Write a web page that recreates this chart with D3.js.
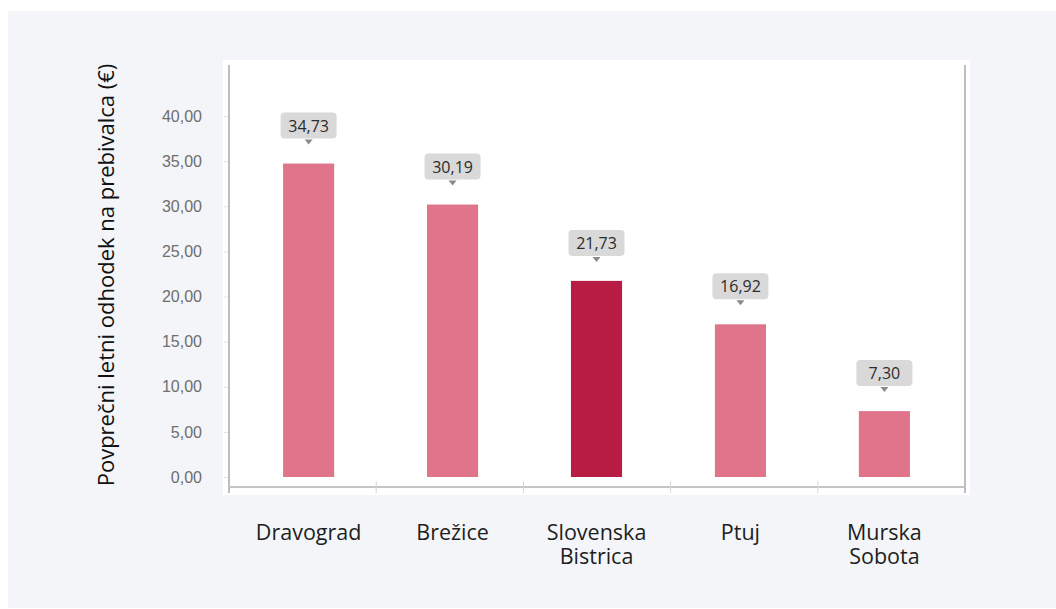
<!DOCTYPE html>
<html>
<head>
<meta charset="utf-8">
<script src="https://cdn.jsdelivr.net/npm/d3@7"></script>
<style>
  html, body { margin: 0; padding: 0; background: #ffffff; }
  svg { display: block; font-family: "Open Sans", "Noto Sans", sans-serif; }
</style>
</head>
<body>
<svg id="chart" width="1056" height="609"></svg>
<script>
const categories = [["Dravograd"], ["Brežice"], ["Slovenska", "Bistrica"], ["Ptuj"], ["Murska", "Sobota"]];
const values = [34.73, 30.19, 21.73, 16.92, 7.30];
const highlight = [false, false, true, false, false];
const yTicks = [0, 5, 10, 15, 20, 25, 30, 35, 40];
const yTitle = "Povprečni letni odhodek na prebivalca (€)";

const fmt = v => v.toFixed(2).replace(".", ",");
const svg = d3.select("#chart");

// backgrounds
svg.append("rect").attr("x", 8).attr("y", 11).attr("width", 1048).attr("height", 597).attr("fill", "#f3f5f8");
svg.append("rect").attr("x", 223).attr("y", 60).attr("width", 747).attr("height", 435).attr("fill", "#ffffff");

const names = categories.map(c => c.join(" "));
const x = d3.scaleBand().domain(names).range([237, 956]).paddingInner(0.645).paddingOuter(0.32);
const xb = d3.scaleBand().domain(names).range([229, 965]);
const y = d3.scaleLinear().domain([0, 40]).range([477, 116]);

// y tick marks + labels
const yAxis = svg.append("g").attr("transform", "translate(229,0)")
  .call(d3.axisLeft(y).tickValues(yTicks).tickSize(5).tickPadding(22).tickFormat(fmt));
yAxis.select(".domain").remove();
yAxis.selectAll(".tick line").attr("stroke", "#e2e2e2");
yAxis.selectAll(".tick text").attr("fill", "#6e6e6e").style("font-size", "16px");

// axis frame lines
svg.append("line").attr("x1", 229).attr("x2", 229).attr("y1", 65).attr("y2", 493).attr("stroke", "#bdbdbd").attr("stroke-width", 2);
svg.append("line").attr("x1", 965).attr("x2", 965).attr("y1", 65).attr("y2", 493).attr("stroke", "#bdbdbd").attr("stroke-width", 2);
svg.append("line").attr("x1", 229).attr("x2", 966).attr("y1", 487).attr("y2", 487).attr("stroke", "#c4c4c4").attr("stroke-width", 2);

// x boundary ticks
const bounds = names.slice(1).map(n => xb(n));
svg.selectAll(".xtick").data(bounds).enter().append("line")
  .attr("x1", d => d).attr("x2", d => d).attr("y1", 481).attr("y2", 493)
  .attr("stroke", "#d6d6d6").attr("stroke-width", 1);

// bars
svg.selectAll(".bar").data(values).enter().append("rect")
  .attr("x", (d, i) => x(names[i]))
  .attr("y", d => y(d))
  .attr("width", x.bandwidth())
  .attr("height", d => y(0) - y(d))
  .attr("fill", (d, i) => highlight[i] ? "#b81c45" : "#e0748b");

// value callouts
const lab = svg.selectAll(".lab").data(values).enter().append("g")
  .attr("transform", (d, i) => `translate(${x(names[i]) + x.bandwidth() / 2},${y(d) - 25})`);
lab.append("rect").attr("x", -28).attr("y", -26).attr("width", 56).attr("height", 26).attr("rx", 4)
  .attr("fill", "#d9d9d9");
lab.append("path").attr("d", "M-4,1 L4,1 L0,6 Z").attr("fill", "#8a8a8a");
lab.append("text").attr("y", -7).attr("text-anchor", "middle").attr("fill", "#2b2b2b")
  .style("font-size", "16px").text(d => fmt(d));

// category labels
const cat = svg.selectAll(".cat").data(categories).enter().append("text")
  .attr("text-anchor", "middle").attr("fill", "#1e1e1e").style("font-size", "21.5px")
  .attr("transform", (d, i) => `translate(${x(names[i]) + x.bandwidth() / 2},540)`);
cat.selectAll("tspan").data(d => d).enter().append("tspan")
  .attr("x", 0).attr("dy", (d, j) => j === 0 ? 0 : 24).text(d => d);

// y title
svg.append("text").attr("transform", "translate(114,275) rotate(-90)")
  .attr("text-anchor", "middle").attr("fill", "#111").style("font-size", "22px").text(yTitle);
</script>
</body>
</html>
